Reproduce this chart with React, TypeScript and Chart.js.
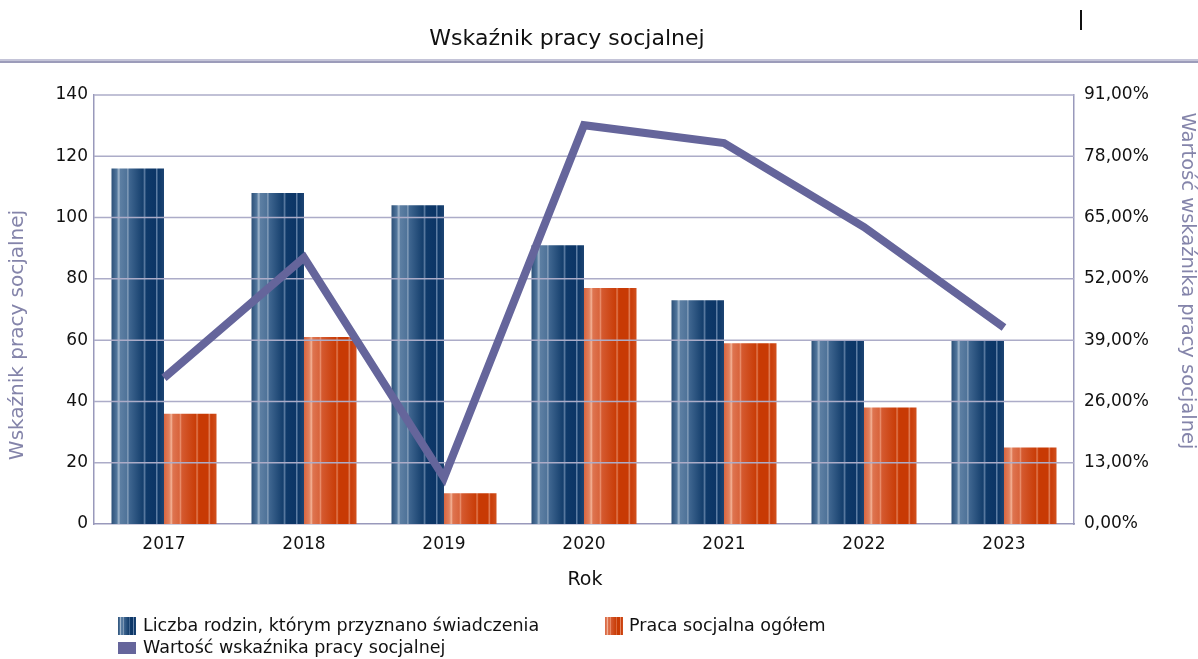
import React, { useEffect, useRef } from 'react';
import { Chart, registerables } from 'chart.js';

Chart.register(...registerables);

const categories = ['2017', '2018', '2019', '2020', '2021', '2022', '2023'];
const familiesGranted = [116, 108, 104, 91, 73, 60, 60];
const socialWorkTotal = [36, 61, 10, 77, 59, 38, 25];
const indicatorPct = [31.0, 56.5, 9.8, 84.6, 80.8, 63.0, 41.7];
const leftTicks = [0, 20, 40, 60, 80, 100, 120, 140];
const rightTicks = [0, 13, 26, 39, 52, 65, 78, 91];

const chartTitle = 'Wskaźnik pracy socjalnej';
const xTitle = 'Rok';
const yTitle = 'Wskaźnik pracy socjalnej';
const y1Title = 'Wartość wskaźnika pracy socjalnej';
const seriesNames = [
  'Liczba rodzin, którym przyznano świadczenia',
  'Praca socjalna ogółem',
  'Wartość wskaźnika pracy socjalnej',
];

const FONT = '"DejaVu Sans", "Liberation Sans", sans-serif';
const LINE_COLOR = '#65659b';
const AXIS_TITLE_COLOR = '#8484aa';
const GRID_COLOR = '#acacc8';
const BORDER_COLOR = '#9999bb';

const blueStops: [number, string][] = [
  [0, '#2c5078'], [0.1, '#51769c'], [0.14, '#a5b9cd'], [0.17, '#5d7fa3'],
  [0.29, '#4f7399'], [0.31, '#8aa2bd'], [0.34, '#3f6690'], [0.6, '#143e6c'],
  [0.63, '#5a7aa0'], [0.66, '#0f3a6a'], [0.84, '#0c3566'], [0.86, '#6a88ad'],
  [0.89, '#0c3768'], [1, '#1d4472'],
];
const orangeStops: [number, string][] = [
  [0, '#d9653f'], [0.1, '#e0805e'], [0.14, '#f2b195'], [0.17, '#de7450'],
  [0.29, '#d8643c'], [0.31, '#eb9373'], [0.34, '#d55a30'], [0.6, '#c93d08'],
  [0.63, '#e07a52'], [0.66, '#c83a04'], [0.84, '#c83a04'], [0.86, '#e58a66'],
  [0.89, '#c93c08'], [1, '#d0501e'],
];

function makeGradient(ctx: CanvasRenderingContext2D, x0: number, x1: number, stops: [number, string][]) {
  const g = ctx.createLinearGradient(x0, 0, x1, 0);
  for (const [o, c] of stops) g.addColorStop(o, c);
  return g;
}

const CAT_PCT = 0.75;

const decor = {
  id: 'decor',
  beforeDatasetDraw(chart: any, args: any) {
    if (args.index !== 2) return;
    const { ctx, chartArea } = chart;
    const y = chart.scales.y;
    ctx.save();
    ctx.strokeStyle = GRID_COLOR;
    ctx.lineWidth = 1.5;
    for (const t of leftTicks) {
      if (t === 0) continue;
      const py = y.getPixelForValue(t);
      ctx.beginPath();
      ctx.moveTo(chartArea.left, py);
      ctx.lineTo(chartArea.right, py);
      ctx.stroke();
    }
    ctx.restore();
  },
  afterDraw(chart: any) {
    const { ctx, chartArea, width } = chart;
    ctx.save();
    ctx.fillStyle = '#111';
    ctx.font = `22px ${FONT}`;
    ctx.textAlign = 'center';
    ctx.textBaseline = 'middle';
    ctx.fillText(chartTitle, 567, 39);
    ctx.fillStyle = '#c4c4d8';
    ctx.fillRect(0, 59, width, 2);
    ctx.fillStyle = '#9c9cba';
    ctx.fillRect(0, 61, width, 2);
    ctx.fillStyle = '#111';
    ctx.fillRect(1080, 10, 2, 20);
    ctx.fillStyle = AXIS_TITLE_COLOR;
    ctx.font = `20px ${FONT}`;
    ctx.save();
    ctx.translate(18, 335);
    ctx.rotate(-Math.PI / 2);
    ctx.fillText(yTitle, 0, 0);
    ctx.restore();
    ctx.font = `19.5px ${FONT}`;
    ctx.save();
    ctx.translate(1187, 281);
    ctx.rotate(Math.PI / 2);
    ctx.fillText(y1Title, 0, 0);
    ctx.restore();
    ctx.fillStyle = '#111';
    ctx.font = `19px ${FONT}`;
    ctx.fillText(xTitle, (chartArea.left + chartArea.right) / 2 + 1, 580);
    ctx.font = `17.5px ${FONT}`;
    ctx.textAlign = 'left';
    ctx.fillStyle = makeGradient(ctx, 118, 136, blueStops);
    ctx.fillRect(118, 617, 18, 18);
    ctx.fillStyle = '#111';
    ctx.fillText(seriesNames[0], 143, 626);
    ctx.fillStyle = makeGradient(ctx, 605, 623, orangeStops);
    ctx.fillRect(605, 617, 18, 18);
    ctx.fillStyle = '#111';
    ctx.fillText(seriesNames[1], 629, 626);
    ctx.fillStyle = LINE_COLOR;
    ctx.fillRect(118, 642, 18, 12);
    ctx.fillStyle = '#111';
    ctx.fillText(seriesNames[2], 143, 648);
    ctx.restore();
  },
};

export default function App() {
  const ref = useRef<HTMLCanvasElement | null>(null);
  useEffect(() => {
    document.body.style.margin = '0';
    const canvas = ref.current;
    if (!canvas) return;
    const chart = new Chart(canvas, {
      type: 'bar',
      data: {
        labels: categories,
        datasets: [
          {
            type: 'bar',
            label: seriesNames[0],
            data: familiesGranted,
            backgroundColor: '#143e6c',
            borderWidth: 0,
            yAxisID: 'y',
            order: 1,
            categoryPercentage: CAT_PCT,
            barPercentage: 1,
          },
          {
            type: 'bar',
            label: seriesNames[1],
            data: socialWorkTotal,
            backgroundColor: '#c93d08',
            borderWidth: 0,
            yAxisID: 'y',
            order: 1,
            categoryPercentage: CAT_PCT,
            barPercentage: 1,
          },
          {
            type: 'line',
            label: seriesNames[2],
            data: indicatorPct,
            borderColor: LINE_COLOR,
            backgroundColor: LINE_COLOR,
            borderWidth: 8,
            pointRadius: 0,
            tension: 0,
            borderJoinStyle: 'miter',
            yAxisID: 'y1',
            order: 0,
          } as any,
        ],
      },
      options: {
        responsive: false,
        animation: false,
        events: [],
        layout: { padding: { top: 95, bottom: 0, left: 0, right: 0 } },
        plugins: {
          legend: { display: false },
          title: { display: false },
          tooltip: { enabled: false },
        },
        scales: {
          x: {
            grid: { display: false, drawTicks: false },
            border: { display: true, color: BORDER_COLOR, width: 1.5 },
            ticks: { color: '#111', font: { family: FONT, size: 17 }, padding: 10 },
            afterFit: (s: any) => { s.height = 135; },
          },
          y: {
            position: 'left',
            min: 0,
            max: 140,
            afterBuildTicks: (s: any) => { s.ticks = leftTicks.map((v) => ({ value: v })); },
            grid: { display: false, drawTicks: false },
            border: { display: true, color: BORDER_COLOR, width: 1.5 },
            ticks: { color: '#111', font: { family: FONT, size: 17 }, padding: 6 },
            afterFit: (s: any) => { s.width = 94; },
          },
          y1: {
            position: 'right',
            min: 0,
            max: 91,
            afterBuildTicks: (s: any) => { s.ticks = rightTicks.map((v) => ({ value: v })); },
            grid: { display: false, drawTicks: false },
            border: { display: true, color: BORDER_COLOR, width: 1.5 },
            ticks: {
              color: '#111',
              font: { family: FONT, size: 17 },
              padding: 10,
              callback: (v: any) => Number(v).toFixed(2).replace('.', ',') + '%',
            },
            afterFit: (s: any) => { s.width = 124; },
          },
        },
      },
      plugins: [decor],
    });
    const applyFills = (dsIndex: number, stops: [number, string][]) => {
      const meta = chart.getDatasetMeta(dsIndex);
      const fills = meta.data.map((el: any) => {
        const w = el.width;
        const left = el.x - w / 2;
        return makeGradient(chart.ctx, left, left + w, stops);
      });
      (chart.data.datasets[dsIndex] as any).backgroundColor = fills;
    };
    applyFills(0, blueStops);
    applyFills(1, orangeStops);
    chart.update();
    return () => chart.destroy();
  }, []);
  return <canvas ref={ref} width={1198} height={659} style={{ display: 'block' }} />;
}
